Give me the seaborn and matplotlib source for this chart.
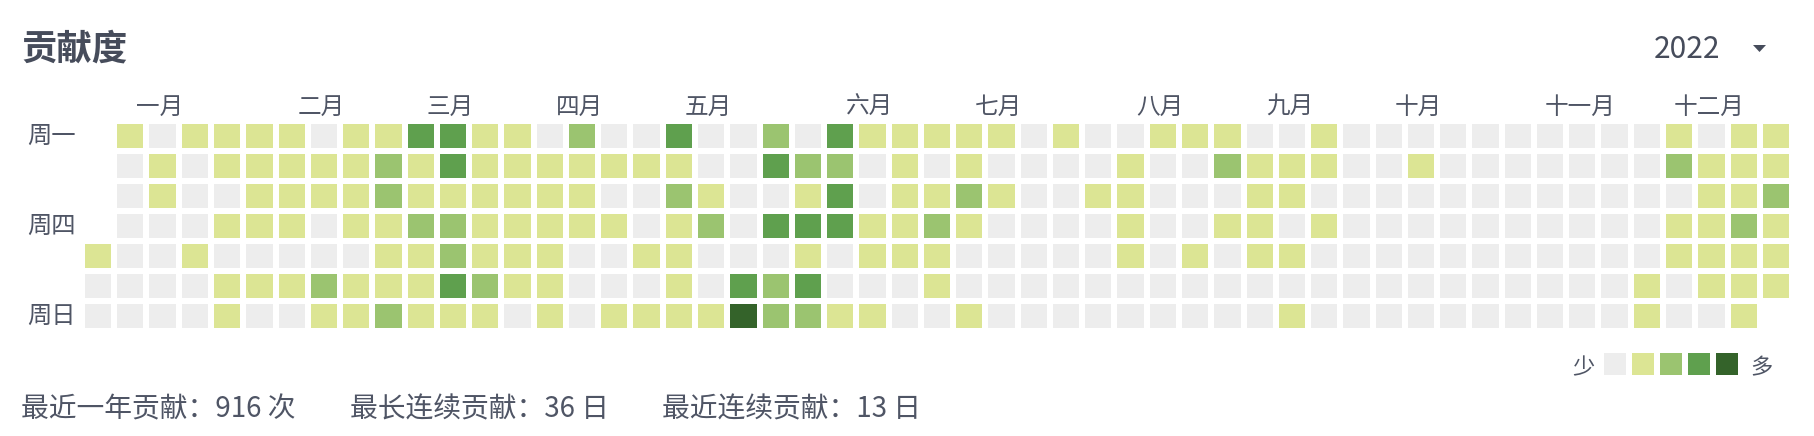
import numpy as np
import pandas as pd
import matplotlib
matplotlib.use("Agg")
import matplotlib.pyplot as plt
import seaborn as sns
from matplotlib.colors import ListedColormap
from matplotlib import transforms
from matplotlib.patches import Polygon

plt.rcParams['font.family'] = ['Noto Sans CJK SC', 'DejaVu Sans']

# ---------------- data ----------------
N = None
year = 2022
range_start = '2021-12-31'
range_end = '2022-12-31'
weekday_labels = ['周一', '周二', '周三', '周四', '周五', '周六', '周日']
shown_weekdays = ['周一', '周四', '周日']
month_labels = ['一月', '二月', '三月', '四月', '五月', '六月',
                '七月', '八月', '九月', '十月', '十一月', '十二月']

# contribution level (0-4) per week column, one list per weekday
mon = [N,1,0,1,1,1,1,0,1,1, 3,3,1,1,0,2,0,0,3,0, 0,2,0,3,1,1,1,1,1,0,
       1,0,0,1,1,1,0,0,1,0, 0,0,0,0,0,0,0,0,0,1, 0,1,1]
tue = [N,0,1,0,1,1,1,1,1,2, 1,3,1,1,1,1,1,1,1,0, 0,3,2,2,0,1,0,1,0,0,
       0,0,1,0,0,2,1,1,1,0, 0,1,0,0,0,0,0,0,0,2, 1,1,1]
wed = [N,0,1,0,0,1,1,1,1,2, 1,1,1,1,1,1,0,0,2,1, 0,0,1,3,0,1,1,2,1,0,
       0,1,1,0,0,0,1,1,0,0, 0,0,0,0,0,0,0,0,0,0, 1,1,2]
thu = [N,0,0,0,1,1,1,0,1,1, 2,2,1,1,1,1,1,0,1,2, 0,3,3,3,1,1,2,1,0,0,
       0,0,1,0,0,1,1,0,1,0, 0,0,0,0,0,0,0,0,0,1, 1,2,1]
fri = [1,0,0,1,0,0,0,0,0,1, 1,2,1,1,1,0,0,1,1,0, 0,0,1,0,1,1,1,0,0,0,
       0,0,1,0,1,0,1,1,0,0, 0,0,0,0,0,0,0,0,0,1, 1,1,1]
sat = [0,0,0,0,1,1,1,2,1,1, 1,3,2,1,1,0,0,0,1,0, 3,2,3,0,0,0,1,0,0,0,
       0,0,0,0,0,0,0,0,0,0, 0,0,0,0,0,0,0,0,1,0, 1,1,1]
sun = [0,0,0,0,1,0,0,1,1,2, 1,1,1,0,1,0,1,1,1,1, 4,2,2,1,1,0,0,1,0,0,
       0,0,0,0,0,0,0,1,0,0, 0,0,0,0,0,0,0,0,1,0, 0,1,N]

legend_levels = [0, 1, 2, 3, 4]
level_colors = ['#ededed', '#dce594', '#9bc470', '#5fa04e', '#34632a']

total_last_year = 916
longest_streak = 36
current_streak = 13

# ---------------- figure ----------------
W, H = 1814, 436
fig = plt.figure(figsize=(W / 100, H / 100), dpi=100)
fig.patch.set_facecolor('white')


def fx(px):
    return px / W


def fy(py):
    return 1 - py / H


TITLE_C = '#464c5b'
TEXT_C = '#4f5565'

rows = [mon, tue, wed, thu, fri, sat, sun]
grid = pd.DataFrame([[np.nan if v is None else v for v in r] for r in rows],
                    index=weekday_labels, dtype=float)

cmap = ListedColormap(level_colors)

ax = fig.add_axes([fx(81.9), fy(331), (1792.1 - 81.9) / W, 210 / H])
sns.heatmap(grid, ax=ax, cmap=cmap, vmin=-0.5, vmax=4.5, cbar=False,
            linewidths=2.9, linecolor='white',
            xticklabels=False, yticklabels=False)
ax.set_xticks([])
ax.set_yticks([])
ax.set_xlabel('')
ax.set_ylabel('')

# month labels from dates
start = pd.Timestamp(range_start)
origin = start - pd.Timedelta(days=start.weekday())
trans_m = transforms.blended_transform_factory(ax.transData, fig.transFigure)
for m, name in enumerate(month_labels, start=1):
    first = pd.Timestamp(year=year, month=m, day=1)
    col = (first - origin).days // 7
    ax.text(col + 0.5 + 1.92, fy(107.5), name, transform=trans_m,
            ha='center', va='center', fontsize=17, color=TEXT_C)

# weekday labels
trans_w = transforms.blended_transform_factory(fig.transFigure, ax.transData)
for i, wd in enumerate(weekday_labels):
    if wd in shown_weekdays:
        ax.text(fx(27), i + 0.5, wd, transform=trans_w, ha='left',
                va='center', fontsize=17.5, color=TEXT_C)

# title and year selector
fig.text(fx(21), fy(49), '贡献度', fontsize=25.5, fontweight='bold',
         va='center', ha='left', color=TITLE_C)
fig.text(fx(1654), fy(58), str(year), fontsize=21.5, va='baseline',
         ha='left', color=TITLE_C)
tri = Polygon([[fx(1753), fy(45)], [fx(1766), fy(45)], [fx(1759.5), fy(52)]],
              closed=True, transform=fig.transFigure, facecolor=TITLE_C,
              edgecolor='none')
fig.add_artist(tri)

# legend
lax = fig.add_axes([fx(1601), fy(378), 140 / W, 28 / H])
sns.heatmap(pd.DataFrame([legend_levels]), ax=lax, cmap=cmap, vmin=-0.5,
            vmax=4.5, cbar=False, linewidths=2.9, linecolor='white',
            xticklabels=False, yticklabels=False)
lax.set_xticks([])
lax.set_yticks([])
fig.text(fx(1583), fy(368), '少', ha='center', va='center', fontsize=16,
         color=TEXT_C)
fig.text(fx(1761), fy(368), '多', ha='center', va='center', fontsize=16,
         color=TEXT_C)

# footer stats
fig.text(fx(21), fy(417.5), f'最近一年贡献：{total_last_year} 次',
         fontsize=20, va='baseline', ha='left', color=TEXT_C)
fig.text(fx(350), fy(417.5), f'最长连续贡献：{longest_streak} 日',
         fontsize=20, va='baseline', ha='left', color=TEXT_C)
fig.text(fx(662), fy(417.5), f'最近连续贡献：{current_streak} 日',
         fontsize=20, va='baseline', ha='left', color=TEXT_C)

fig.savefig('out.png', dpi=100, facecolor='white')
